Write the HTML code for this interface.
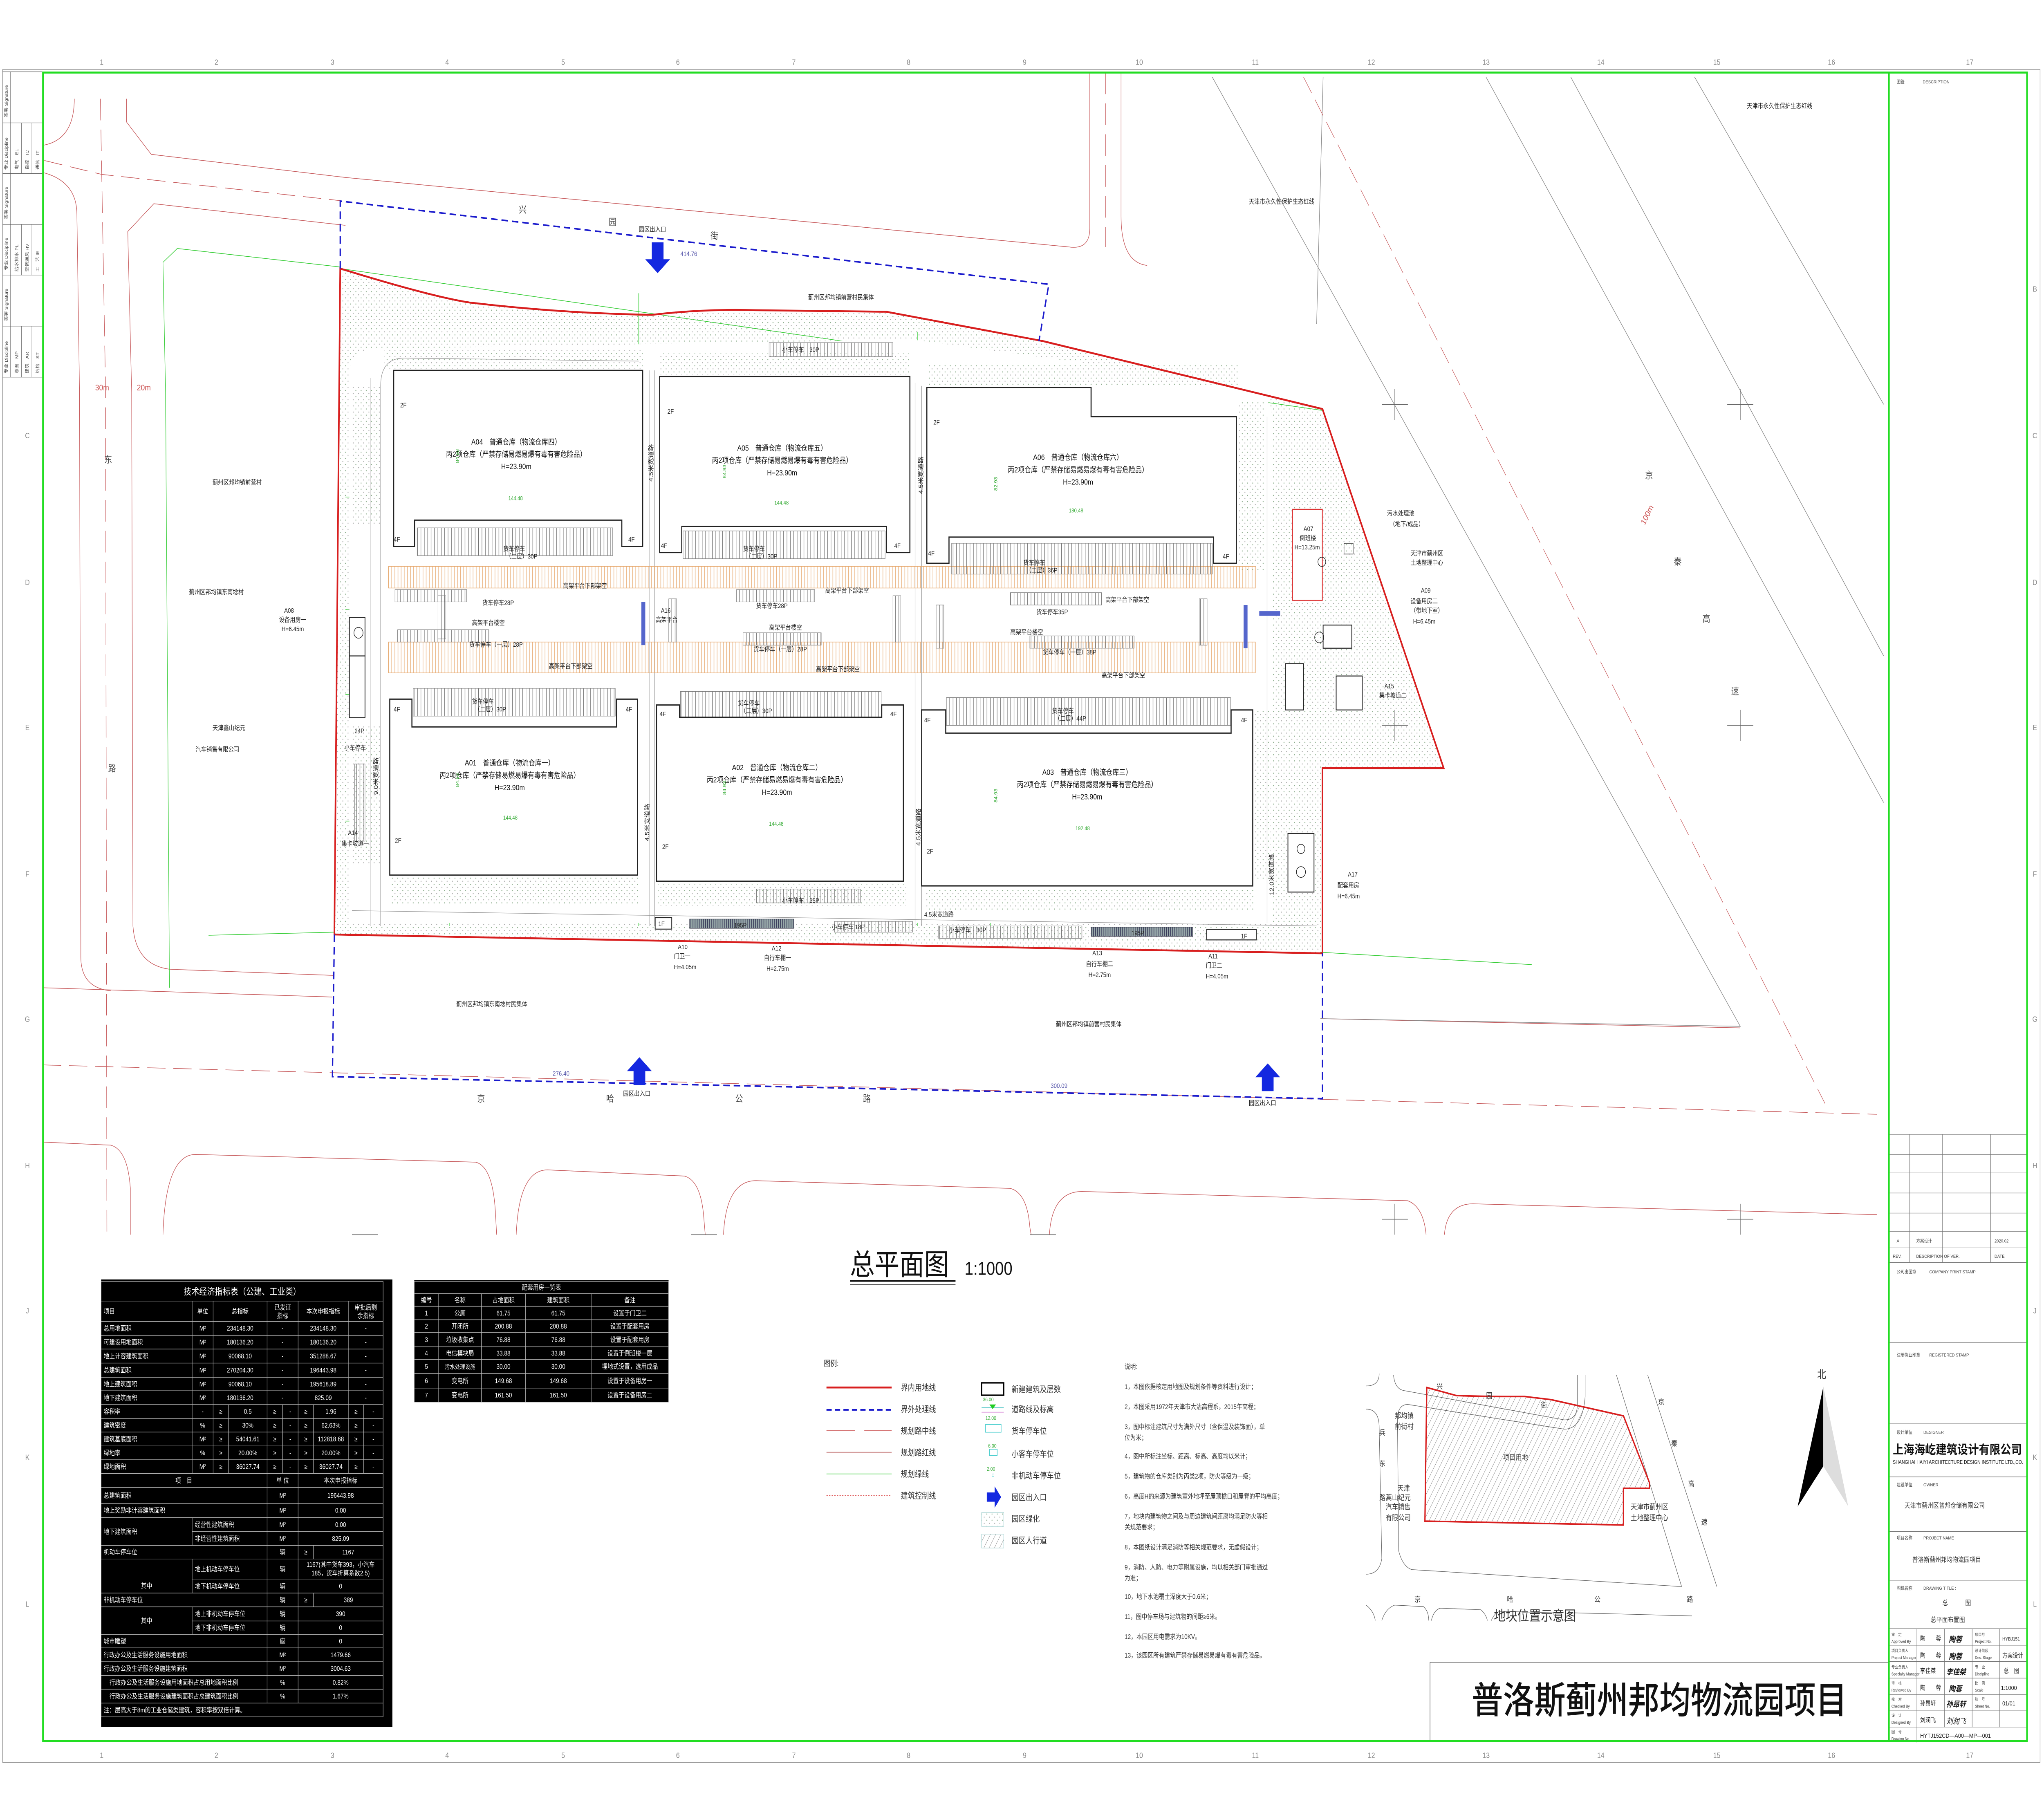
<!DOCTYPE html>
<html><head><meta charset="utf-8">
<style>
html,body{margin:0;padding:0;background:#fff;width:100%;height:100%;overflow:hidden}
svg{display:block;position:fixed;left:0;top:0;width:100vw;height:100vh}
svg text{font-family:"Liberation Sans","Noto Sans CJK SC",sans-serif}
</style></head><body>
<svg viewBox="0 0 1568 1176" preserveAspectRatio="none">
<defs>
<pattern id="dots" width="4" height="4" patternUnits="userSpaceOnUse"><circle cx="1" cy="1" r="0.35" fill="#8a8"/><circle cx="3" cy="3" r="0.35" fill="#aaa"/></pattern>
<pattern id="vh" width="2.6" height="10" patternUnits="userSpaceOnUse"><line x1="0.5" y1="0" x2="0.5" y2="10" stroke="#666" stroke-width="0.35"/></pattern>
<pattern id="or" width="2.4" height="10" patternUnits="userSpaceOnUse"><line x1="0.5" y1="0" x2="0.5" y2="10" stroke="#e6a66a" stroke-width="0.45"/></pattern>
<pattern id="dk" width="1.6" height="10" patternUnits="userSpaceOnUse"><rect width="1.6" height="10" fill="#9aa"/><line x1="0.4" y1="0" x2="0.4" y2="10" stroke="#335" stroke-width="0.5"/></pattern>
<pattern id="diag" width="3.5" height="3.5" patternUnits="userSpaceOnUse" patternTransform="rotate(30)"><line x1="0" y1="0" x2="0" y2="3.5" stroke="#444" stroke-width="0.3"/></pattern>
</defs>
<rect width="1568" height="1176" fill="#fff"/>

<rect x="2" y="45" width="1563" height="1097" fill="none" stroke="#999" stroke-width="0.4"/>
<g font-size="5" fill="#888" text-anchor="middle">
<text x="78" y="42">1</text><text x="166" y="42">2</text><text x="255" y="42">3</text><text x="343" y="42">4</text><text x="432" y="42">5</text><text x="520" y="42">6</text><text x="609" y="42">7</text><text x="697" y="42">8</text><text x="786" y="42">9</text><text x="874" y="42">10</text><text x="963" y="42">11</text><text x="1052" y="42">12</text><text x="1140" y="42">13</text><text x="1228" y="42">14</text><text x="1317" y="42">15</text><text x="1405" y="42">16</text><text x="1511" y="42">17</text>
<text x="78" y="1139">1</text><text x="166" y="1139">2</text><text x="255" y="1139">3</text><text x="343" y="1139">4</text><text x="432" y="1139">5</text><text x="520" y="1139">6</text><text x="609" y="1139">7</text><text x="697" y="1139">8</text><text x="786" y="1139">9</text><text x="874" y="1139">10</text><text x="963" y="1139">11</text><text x="1052" y="1139">12</text><text x="1140" y="1139">13</text><text x="1228" y="1139">14</text><text x="1317" y="1139">15</text><text x="1405" y="1139">16</text><text x="1511" y="1139">17</text>
<text x="1561" y="189">B</text><text x="1561" y="284">C</text><text x="1561" y="379">D</text><text x="1561" y="473">E</text><text x="1561" y="568">F</text><text x="1561" y="662">G</text><text x="1561" y="757">H</text><text x="1561" y="851">J</text><text x="1561" y="946">K</text><text x="1561" y="1041">L</text>
<text x="21" y="284">C</text><text x="21" y="379">D</text><text x="21" y="473">E</text><text x="21" y="568">F</text><text x="21" y="662">G</text><text x="21" y="757">H</text><text x="21" y="851">J</text><text x="21" y="946">K</text><text x="21" y="1041">L</text>
</g>
<g stroke="#555" stroke-width="0.3" fill="none">
<line x1="2" y1="46.5" x2="33" y2="46.5"/><line x1="2" y1="79.6" x2="33" y2="79.6"/><line x1="2" y1="112.4" x2="33" y2="112.4"/><line x1="2" y1="145.4" x2="33" y2="145.4"/><line x1="2" y1="178.2" x2="33" y2="178.2"/><line x1="2" y1="211.3" x2="33" y2="211.3"/><line x1="2" y1="244.4" x2="33" y2="244.4"/>
<line x1="7.9" y1="46.5" x2="7.9" y2="244.4"/><line x1="16.4" y1="79.6" x2="16.4" y2="112.4"/><line x1="24.5" y1="79.6" x2="24.5" y2="112.4"/><line x1="16.4" y1="145.4" x2="16.4" y2="178.2"/><line x1="24.5" y1="145.4" x2="24.5" y2="178.2"/><line x1="16.4" y1="211.3" x2="16.4" y2="244.4"/><line x1="24.5" y1="211.3" x2="24.5" y2="244.4"/>
</g>
<g font-size="3.2" fill="#444">
<text transform="translate(6,76) rotate(-90)">签署 Signature</text>
<text transform="translate(6,110) rotate(-90)">专业 Discipline</text>
<text transform="translate(6,142) rotate(-90)">签署 Signature</text>
<text transform="translate(6,175) rotate(-90)">专业 Discipline</text>
<text transform="translate(6,208) rotate(-90)">签署 Signature</text>
<text transform="translate(6,242) rotate(-90)">专业 Discipline</text>
<text transform="translate(14,110) rotate(-90)">电气　EL</text><text transform="translate(22,110) rotate(-90)">自控　IC</text><text transform="translate(30,110) rotate(-90)">通信　IT</text>
<text transform="translate(14,176) rotate(-90)">给水排水 PL</text><text transform="translate(22,176) rotate(-90)">空调通风 HV</text><text transform="translate(30,176) rotate(-90)">工　艺 IE</text>
<text transform="translate(14,242) rotate(-90)">总图　MP</text><text transform="translate(22,242) rotate(-90)">建筑　AR</text><text transform="translate(30,242) rotate(-90)">结构　ST</text>
</g>

<g fill="none" stroke="#c75a5c" stroke-width="0.4">
<path d="M57,64 Q57,90 34,94"/>
<path d="M97,64 L97,79 L116,100 L265,115 L820,160 Q836,162 836,148 L836,47"/>
<path d="M34,112 Q59,118 59,139 L61,254 L62,620 Q62,640 85,642"/>
<path d="M118,132 L265,146"/>
<path d="M118,132 L98,150 L101,254 L102,600 Q104,625 130,628 L256,632"/>
<path d="M860,47 L860,140 Q860,170 880,172"/>
<path d="M33,640 L255,646"/>
<path d="M1013,660 L1335,666"/>
<path d="M33,740 L85,742 Q98,745 100,770 L100,800"/>
<path d="M125,800 Q127,748 150,748 L365,753 Q378,756 380,785 L381,800"/>
<path d="M396,800 Q398,758 420,758 L525,762 Q538,765 540,790 L541,800"/>
<path d="M555,800 Q557,765 580,765 L775,770 Q788,773 790,795 L791,800"/>
<path d="M805,800 Q807,772 830,772 L1080,778 Q1092,782 1094,800"/>
<path d="M1108,800 Q1110,780 1130,780 L1440,787"/>
</g>
<g fill="none" stroke="#c75a5c" stroke-width="0.4" stroke-dasharray="14 6">
<path d="M77,64 L81,254 L82,800"/>
<path d="M34,104 L78,113 L261,130"/>
<path d="M848,47 L848,160"/>
<path d="M33,690 L1440,722"/>
</g>
<g fill="none" stroke="#888" stroke-width="0.4">
<path d="M930,50 L1335,665 L1013,660"/>
<path d="M1140,50 L1445,520"/>
<path d="M1205,50 L1445,425"/>
<path d="M1300,50 L1445,262"/>
<path d="M1010,210 L1015,50"/>
</g>
<g fill="none" stroke="#c75a5c" stroke-width="0.35" stroke-dasharray="12 5"><path d="M1000,50 L1400,715"/></g>
<g fill="none" stroke="#33cc33" stroke-width="0.4">
<path d="M136,161 L261,173"/>
<path d="M136,161 L125,170 L127,254 L130,640"/>
<path d="M261,174 L1015,266"/>
<path d="M1013,617 L1175,625"/>
<path d="M256,604 L160,606"/>
<path d="M265,322 L960,322"/><path d="M265,532 L965,532"/>
<path d="M345,230 L345,600"/><path d="M555,228 L555,600"/><path d="M760,240 L760,600"/>
<path d="M490,190 L490,600"/><path d="M704,215 L704,600"/>
<path d="M265,395 L975,395"/><path d="M265,450 L975,450"/>
</g>

<path d="M261,174 Q330,192 360,196 Q430,203 500,204 Q540,200 580,201 L680,202 L800,221 L1014.5,265 L1107.5,497.7 L1014.5,497.7 L1014.5,617.7 L256.5,605.5 Z" fill="url(#dots)"/>
<path d="M268,240 Q270,226 290,226 L700,220 L960,250 Q975,256 976,272 L976,598 L268,598 Z" fill="#fff"/>
<g fill="url(#dots)">
<rect x="295" y="227" width="198" height="12"/><rect x="506" y="229" width="192" height="14"/><rect x="712" y="236" width="238" height="14"/>
<rect x="300" y="568" width="190" height="18"/><rect x="505" y="573" width="190" height="14"/><rect x="710" y="576" width="252" height="14"/>
<rect x="270" y="250" width="22" height="90"/><rect x="270" y="470" width="22" height="90"/>
<rect x="950" y="260" width="20" height="110"/><rect x="960" y="460" width="15" height="110"/>
</g>
<path d="M261,174 Q330,192 360,196 Q430,203 500,204 Q540,200 580,201 L680,202 L800,221 L1014.5,265 L1107.5,497.7 L1014.5,497.7 L1014.5,617.7 L256.5,605.5 Z" fill="none" stroke="#d81e1e" stroke-width="1.2"/>
<path d="M261,174 L261,130.3 L804.6,184.2 L797,221" fill="none" stroke="#1a1acc" stroke-width="1" stroke-dasharray="5 3"/>
<path d="M256.5,605.5 L255,697.6 L1014.5,711.9 L1014.5,617.7" fill="none" stroke="#1a1acc" stroke-width="1" stroke-dasharray="5 3"/>

<g fill="none" stroke="#999" stroke-width="0.35">
<path d="M292,600 L292,250 Q292,232 310,232 L490,234"/>
<path d="M284,600 L284,245"/>
<path d="M972,598 L972,270"/>
<path d="M498,240 L498,600"/><path d="M502,240 L502,600"/><path d="M702,248 L702,600"/><path d="M707,250 L707,600"/>
<path d="M270,590 L1010,600"/>
</g>

<rect x="298" y="367" width="665" height="14" fill="url(#or)" opacity="0.85"/>
<rect x="298" y="416" width="665" height="20" fill="url(#or)" opacity="0.85"/>
<g fill="none" stroke="#e6a66a" stroke-width="0.4"><rect x="298" y="367" width="665" height="14"/><rect x="298" y="416" width="665" height="20"/></g>
<g fill="url(#vh)" stroke="#777" stroke-width="0.3">
<rect x="320" y="342" width="150" height="18"/><rect x="524" y="344" width="155" height="18"/><rect x="730" y="352" width="200" height="20"/>
<rect x="317" y="446" width="155" height="18"/><rect x="522" y="448" width="154" height="17"/><rect x="726" y="452" width="218" height="18"/>
<rect x="303" y="382" width="55" height="8"/><rect x="565" y="382" width="60" height="8"/><rect x="775" y="384" width="70" height="8"/>
<rect x="305" y="408" width="70" height="8"/><rect x="570" y="410" width="60" height="8"/><rect x="790" y="412" width="80" height="8"/>
<rect x="336" y="386" width="6" height="28"/><rect x="513" y="388" width="6" height="28"/><rect x="685" y="386" width="6" height="30"/><rect x="718" y="392" width="6" height="28"/><rect x="920" y="388" width="6" height="30"/>
<rect x="272" y="495" width="8" height="50"/><rect x="272" y="425" width="8" height="40"/>
<rect x="590" y="222" width="95" height="9"/>
<rect x="580" y="576" width="80" height="9"/><rect x="720" y="600" width="110" height="8"/><rect x="640" y="597" width="60" height="7"/>
</g>
<rect x="529" y="595.5" width="80" height="6" fill="url(#dk)" stroke="#334" stroke-width="0.3"/>
<rect x="837" y="600.7" width="78" height="6" fill="url(#dk)" stroke="#334" stroke-width="0.3"/>
<g fill="#5566cc"><rect x="492" y="390" width="3" height="28"/><rect x="954" y="392" width="3" height="28"/><rect x="966" y="396" width="16" height="3"/></g>

<g fill="#fff" stroke="#222" stroke-width="0.8">
<path d="M302,240 L493,240 L493,354 L477,354 L477,337 L318,337 L318,354 L302,354 Z"/>
<path d="M506,244 L698,244 L698,358 L680,358 L680,341 L523,341 L523,358 L506,358 Z"/>
<path d="M711,251 L837,251 L837,270 L948.5,270 L948.5,365 L931,365 L931,348 L728,348 L728,365 L711,365 Z"/>
<path d="M299,453 L316,453 L316,471 L473,471 L473,453 L489,453 L489,567 L299,567 Z"/>
<path d="M503.6,456.8 L521.3,456.8 L521.3,464.7 L676.4,464.7 L676.4,456.8 L693,456.8 L693,571 L503.6,571 Z"/>
<path d="M707,460 L725.5,460 L725.5,475 L944.4,475 L944.4,460 L961,460 L961,574 L707,574 Z"/>
</g>
<g fill="#fff" stroke="#222" stroke-width="0.6">
<rect x="502.6" y="594.6" width="12.7" height="7.4"/>
<rect x="925.7" y="602.2" width="38" height="6.8"/>
<rect x="268" y="400" width="12" height="25"/>
<rect x="268" y="425" width="12" height="40"/>
<rect x="986" y="430" width="14" height="30"/>
<rect x="1025" y="438" width="20" height="22"/>
<rect x="988" y="540" width="20" height="38"/>
<rect x="1015" y="405" width="22" height="15"/>
</g>
<rect x="991.6" y="330" width="22.8" height="59" fill="#fff" stroke="#d33" stroke-width="0.6"/>
<g fill="none" stroke="#222" stroke-width="0.4"><circle cx="275" cy="410" r="3.5"/><circle cx="1012" cy="413" r="3.5"/><circle cx="998" cy="565" r="3.5"/><circle cx="998" cy="550" r="3"/><circle cx="1014" cy="364" r="3"/><rect x="1031" y="352" width="7" height="7"/></g>

<g fill="#1428e0">
<path d="M500,157 L509,157 L509,168 L514,168 L504.5,177 L495,168 L500,168 Z"/>
<path d="M486,703 L495,703 L495,694 L500,694 L490.5,685 L481,694 L486,694 Z"/>
<path d="M968,707 L977,707 L977,698 L982,698 L972.5,689 L963,698 L968,698 Z"/>
</g>

<g stroke="#666" stroke-width="0.4">
<path d="M1070,252 V272 M1060,262 H1080"/><path d="M1335,252 V272 M1325,262 H1345"/><path d="M1070,460 V480 M1060,470 H1080"/><path d="M1335,460 V480 M1325,470 H1345"/>
<path d="M1070,780 V800 M1060,790 H1080"/><path d="M1335,780 V800 M1325,790 H1345"/>
<path d="M270,800 H290 M530,800 H550 M790,800 H810"/>
</g>

<g font-size="5" fill="#111" text-anchor="middle">
<text x="396" y="288">A04　普通仓库（物流仓库四）</text><text x="396" y="296">丙2项仓库（严禁存储易燃易爆有毒有害危险品）</text><text x="396" y="304">H=23.90m</text>
<text x="600" y="292">A05　普通仓库（物流仓库五）</text><text x="600" y="300">丙2项仓库（严禁存储易燃易爆有毒有害危险品）</text><text x="600" y="308">H=23.90m</text>
<text x="827" y="298">A06　普通仓库（物流仓库六）</text><text x="827" y="306">丙2项仓库（严禁存储易燃易爆有毒有害危险品）</text><text x="827" y="314">H=23.90m</text>
<text x="391" y="496">A01　普通仓库（物流仓库一）</text><text x="391" y="504">丙2项仓库（严禁存储易燃易爆有毒有害危险品）</text><text x="391" y="512">H=23.90m</text>
<text x="596" y="499">A02　普通仓库（物流仓库二）</text><text x="596" y="507">丙2项仓库（严禁存储易燃易爆有毒有害危险品）</text><text x="596" y="515">H=23.90m</text>
<text x="834" y="502">A03　普通仓库（物流仓库三）</text><text x="834" y="510">丙2项仓库（严禁存储易燃易爆有毒有害危险品）</text><text x="834" y="518">H=23.90m</text>
</g>
<g font-size="4.2" fill="#222">
<text x="307" y="264">2F</text><text x="512" y="268">2F</text><text x="716" y="275">2F</text><text x="303" y="546">2F</text><text x="508" y="550">2F</text><text x="711" y="553">2F</text>
<text x="302" y="351">4F</text><text x="482" y="351">4F</text><text x="507" y="355">4F</text><text x="686" y="355">4F</text><text x="712" y="360">4F</text><text x="938" y="362">4F</text>
<text x="302" y="461">4F</text><text x="480" y="461">4F</text><text x="506" y="464">4F</text><text x="683" y="464">4F</text><text x="709" y="468">4F</text><text x="952" y="468">4F</text>
<text x="386" y="357">货车停车</text><text x="388" y="362">（二层）30P</text>
<text x="570" y="357">货车停车</text><text x="572" y="362">（二层）30P</text>
<text x="785" y="366">货车停车</text><text x="787" y="371">（二层）36P</text>
<text x="362" y="456">货车停车</text><text x="364" y="461">（二层）30P</text>
<text x="566" y="457">货车停车</text><text x="568" y="462">（二层）30P</text>
<text x="807" y="462">货车停车</text><text x="809" y="467">（二层）44P</text>
<text x="432" y="381">高架平台下部架空</text><text x="633" y="384">高架平台下部架空</text><text x="848" y="390">高架平台下部架空</text>
<text x="421" y="433">高架平台下部架空</text><text x="626" y="435">高架平台下部架空</text><text x="845" y="439">高架平台下部架空</text>
<text x="370" y="392">货车停车28P</text><text x="580" y="394">货车停车28P</text><text x="795" y="398">货车停车35P</text>
<text x="362" y="405">高架平台楼空</text><text x="590" y="408">高架平台楼空</text><text x="775" y="411">高架平台楼空</text>
<text x="360" y="419">货车停车（一层）28P</text><text x="578" y="422">货车停车（一层）28P</text><text x="800" y="424">货车停车（一层）38P</text>
<text x="600" y="228">小车停车　30P</text><text x="600" y="585">小车停车　35P</text><text x="638" y="602">小车停车 18P</text><text x="728" y="604">小车停车　30P</text>
<text x="709" y="594">4.5米宽道路</text><text x="563" y="601">195P</text><text x="868" y="606">195P</text>
<text x="505" y="600">1F</text><text x="952" y="608">1F</text>
<text x="507" y="397">A16</text><text x="503" y="403">高架平台</text>
<text x="264" y="486">小车停车</text><text x="272" y="475">24P</text>
<text x="267" y="541">A14</text><text x="262" y="548">集卡坡道一</text>
<text x="218" y="397">A08</text><text x="214" y="403">设备用房一</text><text x="216" y="409">H=6.45m</text>
<text x="1000" y="344">A07</text><text x="997" y="350">倒班楼</text><text x="993" y="356">H=13.25m</text>
<text x="1090" y="384">A09</text><text x="1082" y="391">设备用房二</text><text x="1082" y="397">（带地下室）</text><text x="1084" y="404">H=6.45m</text>
<text x="1064" y="334">污水处理池</text><text x="1066" y="341">（地下/成品）</text>
<text x="1082" y="360">天津市蓟州区</text><text x="1082" y="366">土地整理中心</text>
<text x="1062" y="446">A15</text><text x="1058" y="452">集卡坡道二</text>
<text x="1034" y="568">A17</text><text x="1026" y="575">配套用房</text><text x="1026" y="582">H=6.45m</text>
<text x="520" y="615">A10</text><text x="517" y="621">门卫一</text><text x="517" y="628">H=4.05m</text>
<text x="592" y="616">A12</text><text x="586" y="622">自行车棚一</text><text x="588" y="629">H=2.75m</text>
<text x="838" y="619">A13</text><text x="833" y="626">自行车棚二</text><text x="835" y="633">H=2.75m</text>
<text x="927" y="621">A11</text><text x="925" y="627">门卫二</text><text x="925" y="634">H=4.05m</text>
<text x="490" y="150">园区出入口</text><text x="478" y="710">园区出入口</text><text x="958" y="716">园区出入口</text>
<text x="163" y="314">蓟州区邦均镇前营村</text><text x="145" y="385">蓟州区邦均镇东南埝村</text>
<text x="163" y="473">天津鑫山纪元</text><text x="150" y="487">汽车销售有限公司</text>
<text x="1340" y="70">天津市永久性保护生态红线</text><text x="958" y="132">天津市永久性保护生态红线</text>
<text x="350" y="652">蓟州区邦均镇东南埝村民集体</text><text x="810" y="665">蓟州区邦均镇前营村民集体</text>
<text x="620" y="194">蓟州区邦均镇前营村民集体</text>
<text x="424" y="697" fill="#55a">276.40</text><text x="806" y="705" fill="#55a">300.09</text><text x="522" y="166" fill="#55a">414.76</text>
</g>
<g font-size="6" fill="#444">
<text x="80" y="300">东</text><text x="83" y="500">路</text><text x="398" y="138">兴</text><text x="467" y="146">园</text><text x="545" y="155">街</text>
<text x="366" y="714">京</text><text x="465" y="714">哈</text><text x="564" y="714">公</text><text x="662" y="714">路</text>
<text x="1262" y="310">京</text><text x="1284" y="366">秦</text><text x="1306" y="403">高</text><text x="1328" y="450">速</text>
</g>
<g font-size="5.5" fill="#c55"><text x="73" y="253">30m</text><text x="105" y="253">20m</text><text x="1258" y="338" transform="rotate(-60 1262 336)">100m</text></g>
<g font-size="4.5" fill="#222">
<text transform="translate(501,312) rotate(-90)">4.5米宽道路</text><text transform="translate(708,320) rotate(-90)">4.5米宽道路</text>
<text transform="translate(498,545) rotate(-90)">4.5米宽道路</text><text transform="translate(706,548) rotate(-90)">4.5米宽道路</text>
<text transform="translate(290,515) rotate(-90)">9.0米宽道路</text><text transform="translate(977,580) rotate(-90)">12.0米宽道路</text>
</g>
<g font-size="3.6" fill="#3a3">
<text x="390" y="324">144.48</text><text x="594" y="327">144.48</text><text x="820" y="332">180.48</text>
<text x="386" y="531">144.48</text><text x="590" y="535">144.48</text><text x="825" y="538">192.48</text>
<text transform="translate(352,300) rotate(-90)">84.93</text><text transform="translate(557,310) rotate(-90)">84.93</text><text transform="translate(765,318) rotate(-90)">82.93</text>
<text transform="translate(352,510) rotate(-90)">84.93</text><text transform="translate(557,515) rotate(-90)">84.93</text><text transform="translate(765,520) rotate(-90)">84.93</text>
</g>

<text x="652" y="826" font-size="19" fill="#111">总平面图</text>
<line x1="652" y1="830" x2="733" y2="830" stroke="#111" stroke-width="1"/>
<line x1="652" y1="832.5" x2="733" y2="832.5" stroke="#111" stroke-width="0.5"/>
<text x="740" y="826" font-size="12" fill="#111">1:1000</text>

<text x="632" y="885" font-size="5" fill="#222">图例:</text>
<line x1="634" y1="899" x2="684" y2="899" stroke="#d81e1e" stroke-width="1.2"/>
<line x1="634" y1="913.5" x2="684" y2="913.5" stroke="#1a1acc" stroke-width="1" stroke-dasharray="4 2.5"/>
<line x1="634" y1="927" x2="656" y2="927" stroke="#c55" stroke-width="0.4"/><line x1="663" y1="927" x2="684" y2="927" stroke="#c55" stroke-width="0.4"/>
<line x1="634" y1="941" x2="684" y2="941" stroke="#c88" stroke-width="0.5"/>
<line x1="634" y1="955" x2="684" y2="955" stroke="#3c3" stroke-width="0.4"/>
<line x1="634" y1="969" x2="684" y2="969" stroke="#d55" stroke-width="0.3" stroke-dasharray="1 1"/>
<g font-size="5.4" fill="#333">
<text x="691" y="901">界内用地线</text><text x="691" y="915">界外处理线</text><text x="691" y="929">规划路中线</text><text x="691" y="943">规划路红线</text><text x="691" y="957">规划绿线</text><text x="691" y="971">建筑控制线</text>
<text x="776" y="902">新建建筑及层数</text><text x="776" y="915">道路线及标高</text><text x="776" y="929">货车停车位</text><text x="776" y="944">小客车停车位</text><text x="776" y="958">非机动车停车位</text><text x="776" y="972">园区出入口</text><text x="776" y="986">园区绿化</text><text x="776" y="1000">园区人行道</text>
</g>
<rect x="753" y="896" width="17" height="8" fill="none" stroke="#000" stroke-width="0.9"/>
<line x1="753" y1="912" x2="770" y2="912" stroke="#6cc" stroke-width="0.4"/><line x1="753" y1="915" x2="770" y2="915" stroke="#c6c" stroke-width="0.4"/><path d="M759,910 L764,910 L761.5,913 Z" fill="#2c2"/>
<rect x="756" y="923" width="12" height="5" fill="none" stroke="#4cc" stroke-width="0.4"/>
<rect x="759" y="939" width="6" height="4" fill="none" stroke="#4cc" stroke-width="0.4"/>
<rect x="761" y="955" width="1.5" height="1.5" fill="none" stroke="#4cc" stroke-width="0.3"/>
<path d="M757,967 L763,967 L763,963 L768,970 L763,977 L763,973 L757,973 Z" fill="#1428e0"/>
<rect x="753" y="980" width="17" height="9" fill="url(#dots)" stroke="#9cc" stroke-width="0.3"/>
<rect x="753" y="994" width="17" height="9" fill="url(#diag)" stroke="#9cc" stroke-width="0.3"/>
<g font-size="3.3" fill="#3a3"><text x="754" y="908">36.00</text><text x="756" y="920">12.00</text><text x="758" y="938">6.00</text><text x="757" y="953">2.00</text></g>

<g font-size="4.3" fill="#333">
<text x="862.7" y="887">说明:</text>
<text x="862.7" y="900">1，本图依据核定用地图及规划条件等资料进行设计；</text>
<text x="862.7" y="913">2，本图采用1972年天津市大沽高程系，2015年高程；</text>
<text x="862.7" y="926">3，图中标注建筑尺寸为满外尺寸（含保温及装饰面），单</text>
<text x="862.7" y="933">位为米；</text>
<text x="862.7" y="945">4，图中所标注坐标、距离、标高、高度均以米计；</text>
<text x="862.7" y="958">5，建筑物的仓库类别为丙类2项，防火等级为一级；</text>
<text x="862.7" y="971">6，高度H的来源为建筑室外地坪至屋顶檐口和屋脊的平均高度；</text>
<text x="862.7" y="984">7，地块内建筑物之间及与周边建筑间距离均满足防火等相</text>
<text x="862.7" y="991">关规范要求；</text>
<text x="862.7" y="1004">8，本图纸设计满足消防等相关规范要求，无虚假设计；</text>
<text x="862.7" y="1017">9，消防、人防、电力等附属设施，均以相关部门审批通过</text>
<text x="862.7" y="1024">为准；</text>
<text x="862.7" y="1036">10，地下水池覆土深度大于0.6米；</text>
<text x="862.7" y="1049">11，图中停车场与建筑物的间距≥6米。</text>
<text x="862.7" y="1062">12，本园区用电需求为10KV。</text>
<text x="862.7" y="1074">13，该园区所有建筑严禁存储易燃易爆有毒有害危险品。</text>
</g>

<g fill="none" stroke="#666" stroke-width="0.35">
<path d="M1048,898 Q1058,898 1058,890 M1048,913 Q1058,913 1058,925 L1060,1010 Q1058,1020 1048,1020"/>
<path d="M1069,891 Q1070,900 1077,901 L1200,920 Q1210,920 1210,910 L1210,891"/>
<path d="M1216,891 L1216,905 Q1214,926 1200,926 L1080,910 Q1072,910 1072,920 L1073,1005 Q1076,1015 1083,1017 L1290,1028"/>
<path d="M1240,891 L1290,1028"/><path d="M1264,891 L1317,1028"/>
<path d="M1048,1040 Q1054,1044 1055,1050 M1060,1050 Q1063,1042 1070,1040 L1092,1041 Q1096,1044 1096,1050 M1098,1050 Q1100,1043 1105,1042 L1136,1043 Q1140,1046 1141,1050 M1144,1050 Q1147,1044 1152,1044 L1191,1045 Q1194,1048 1196,1050 M1200,1050 Q1203,1045 1208,1045 L1298,1047"/>
</g>
<path d="M1094.5,899 L1117,904.2 Q1140,905 1169.4,904.8 L1190,906.9 L1245.4,917.4 L1265.3,960.6 L1265.3,964.3 L1245.4,964.3 L1245.4,988.1 L1093.1,985.6 Z" fill="url(#diag)" stroke="#d81e1e" stroke-width="1"/>
<g font-size="4.8" fill="#333">
<text x="1070" y="919">邦均镇</text><text x="1070" y="926">前街村</text>
<text x="1072" y="966">天津</text><text x="1063" y="972">蒿山纪元</text><text x="1063" y="978">汽车销售</text><text x="1063" y="985">有限公司</text>
<text x="1153" y="946">项目用地</text>
<text x="1251" y="978">天津市蓟州区</text><text x="1251" y="985">土地整理中心</text>
<text x="1058" y="950">东</text><text x="1058" y="972">路</text><text x="1058" y="930">兵</text>
<text x="1102" y="900">兴</text><text x="1140" y="906">园</text><text x="1182" y="912">街</text>
<text x="1272" y="910">京</text><text x="1282" y="937">秦</text><text x="1295" y="963">高</text><text x="1305" y="988">速</text>
<text x="1085" y="1038">京</text><text x="1156" y="1038">哈</text><text x="1223" y="1038">公</text><text x="1294" y="1038">路</text>
</g>
<text x="1146" y="1050" font-size="9" fill="#333">地块位置示意图</text>
<path d="M1398.7,898.5 L1379,976.2 L1398.7,950 Z" fill="#000"/>
<path d="M1398.7,898.5 L1417.8,976 L1398.7,950 Z" fill="#ddd"/>
<text x="1394" y="893" font-size="7" fill="#333">北</text>

<rect x="1097" y="1077" width="352" height="51" fill="none" stroke="#555" stroke-width="0.4"/>
<text x="1273" y="1110" font-size="24" fill="#111" text-anchor="middle" font-weight="500">普洛斯蓟州邦均物流园项目</text>

<g fill="none" stroke="#777" stroke-width="0.35">
<line x1="1449" y1="735" x2="1555" y2="735"/><line x1="1449" y1="748" x2="1555" y2="748"/><line x1="1449" y1="760" x2="1555" y2="760"/><line x1="1449" y1="773" x2="1555" y2="773"/><line x1="1449" y1="786" x2="1555" y2="786"/><line x1="1449" y1="798" x2="1555" y2="798"/><line x1="1449" y1="808" x2="1555" y2="808"/><line x1="1449" y1="818" x2="1555" y2="818"/>
<line x1="1465" y1="735" x2="1465" y2="818"/><line x1="1490" y1="735" x2="1490" y2="818"/><line x1="1527" y1="735" x2="1527" y2="818"/>
<line x1="1449" y1="870" x2="1555" y2="870"/><line x1="1449" y1="922.2" x2="1555" y2="922.2"/><line x1="1449" y1="956.9" x2="1555" y2="956.9"/><line x1="1449" y1="992.3" x2="1555" y2="992.3"/><line x1="1449" y1="1023.9" x2="1555" y2="1023.9"/>
<line x1="1449" y1="1055.3" x2="1555" y2="1055.3"/><line x1="1449" y1="1066" x2="1555" y2="1066"/><line x1="1449" y1="1076.6" x2="1555" y2="1076.6"/><line x1="1449" y1="1087.3" x2="1555" y2="1087.3"/><line x1="1449" y1="1097.9" x2="1555" y2="1097.9"/><line x1="1449" y1="1108.5" x2="1555" y2="1108.5"/><line x1="1449" y1="1119" x2="1555" y2="1119"/>
<line x1="1470.5" y1="1055.3" x2="1470.5" y2="1129"/><line x1="1491.7" y1="1055.3" x2="1491.7" y2="1119"/><line x1="1512.9" y1="1055.3" x2="1512.9" y2="1119"/><line x1="1533.8" y1="1055.3" x2="1533.8" y2="1119"/>
</g>
<g font-size="3" fill="#444">
<text x="1455" y="54">图签</text><text x="1475" y="54">DESCRIPTION</text>
<text x="1455" y="805">A</text><text x="1470" y="805">方案设计</text><text x="1530" y="805">2020.02</text>
<text x="1452" y="815">REV.</text><text x="1470" y="815">DESCRIPTION OF VER.</text><text x="1530" y="815">DATE</text>
<text x="1455" y="825">公司出图章</text><text x="1480" y="825">COMPANY PRINT STAMP</text>
<text x="1455" y="879">注册执业印章</text><text x="1480" y="879">REGISTERED STAMP</text>
<text x="1455" y="929">设计单位</text><text x="1475.5" y="929">DESIGNER</text>
<text x="1455" y="963">建设单位</text><text x="1475.5" y="963">OWNER</text>
<text x="1455" y="997.5">项目名称</text><text x="1475.5" y="997.5">PROJECT NAME</text>
<text x="1455" y="1030">图纸名称</text><text x="1475.5" y="1030">DRAWING TITLE :</text>
</g>
<text x="1452" y="942" font-size="8" font-weight="bold" fill="#111" textLength="99" lengthAdjust="spacingAndGlyphs">上海海屹建筑设计有限公司</text>
<text x="1452" y="948.5" font-size="3.4" fill="#111" textLength="100" lengthAdjust="spacingAndGlyphs">SHANGHAI HAIYI ARCHITECTURE DESIGN INSTITUTE LTD.,CO.</text>
<g font-size="4.4" fill="#333">
<text x="1461" y="977">天津市蓟州区普邦仓储有限公司</text>
<text x="1467" y="1012">普洛斯蓟州邦均物流园项目</text>
<text x="1490" y="1040">总　　　图</text>
<text x="1481" y="1051">总平面布置图</text>
</g>
<g font-size="2.6" fill="#333">
<text x="1451" y="1060">审　定</text><text x="1451" y="1064.5">Approved By</text>
<text x="1451" y="1070.5">项目负责人</text><text x="1451" y="1075">Project Manager</text>
<text x="1451" y="1081">专业负责人</text><text x="1451" y="1085.5">Specialty Manager</text>
<text x="1451" y="1091.5">审　核</text><text x="1451" y="1096">Reviewed By</text>
<text x="1451" y="1102">校　对</text><text x="1451" y="1106.5">Checked By</text>
<text x="1451" y="1112.5">设　计</text><text x="1451" y="1117">Designed By</text>
<text x="1451" y="1123">图　号</text><text x="1451" y="1127.5">Drawing No.</text>
<text x="1515" y="1060">项目号</text><text x="1515" y="1064.5">Project No.</text>
<text x="1515" y="1070.5">设计阶段</text><text x="1515" y="1075">Des. Stage</text>
<text x="1515" y="1081">专　业</text><text x="1515" y="1085.5">Discipline</text>
<text x="1515" y="1091.5">比　例</text><text x="1515" y="1096">Scale</text>
<text x="1515" y="1102">张　号</text><text x="1515" y="1106.5">Sheet No.</text>
</g>
<g font-size="4" fill="#222">
<text x="1473" y="1063">陶　　蓉</text><text x="1473" y="1074">陶　　蓉</text><text x="1473" y="1084">李佳桀</text><text x="1473" y="1095">陶　　蓉</text><text x="1473" y="1105">孙昂轩</text><text x="1473" y="1116">刘润飞</text>
<text x="1536" y="1063" font-size="3.2">HYBJ151</text><text x="1536" y="1074">方案设计</text><text x="1537" y="1084">总　图</text><text x="1535" y="1095">1:1000</text><text x="1536" y="1105">01/01</text>
<text x="1473" y="1126">HYTJ152CD—A00—MP—001</text>
</g>
<g font-size="5" fill="#111" font-weight="bold" font-style="italic">
<text x="1495" y="1064">陶蓉</text><text x="1495" y="1075">陶蓉</text><text x="1493" y="1085">李佳桀</text><text x="1495" y="1096">陶蓉</text><text x="1493" y="1106">孙昂轩</text><text x="1493" y="1117" font-weight="normal">刘润飞</text>
</g>

<rect x="33" y="47" width="1522" height="1081" fill="none" stroke="#22dd22" stroke-width="1.3"/>
<line x1="1449" y1="47" x2="1449" y2="1128" stroke="#22dd22" stroke-width="1.3"/>

<rect x="77.6" y="829" width="223.4" height="290" fill="#000"/>
<g stroke="#bbb" stroke-width="0.35">
<line x1="77.6" y1="830.2" x2="293.9" y2="830.2"/><line x1="77.6" y1="843" x2="293.9" y2="843"/><line x1="77.6" y1="856.2" x2="293.9" y2="856.2"/><line x1="77.6" y1="865.2" x2="293.9" y2="865.2"/><line x1="77.6" y1="874.1" x2="293.9" y2="874.1"/><line x1="77.6" y1="883.2" x2="293.9" y2="883.2"/><line x1="77.6" y1="892.4" x2="293.9" y2="892.4"/><line x1="77.6" y1="901.1" x2="293.9" y2="901.1"/><line x1="77.6" y1="910.1" x2="293.9" y2="910.1"/><line x1="77.6" y1="919" x2="293.9" y2="919"/><line x1="77.6" y1="927.9" x2="293.9" y2="927.9"/><line x1="77.6" y1="936.9" x2="293.9" y2="936.9"/><line x1="77.6" y1="945.8" x2="293.9" y2="945.8"/><line x1="77.6" y1="954.7" x2="293.9" y2="954.7"/><line x1="77.6" y1="963.8" x2="293.9" y2="963.8"/><line x1="77.6" y1="974.1" x2="293.9" y2="974.1"/><line x1="77.6" y1="983.3" x2="293.9" y2="983.3"/><line x1="147.4" y1="992.4" x2="293.9" y2="992.4"/><line x1="77.6" y1="1001.3" x2="293.9" y2="1001.3"/><line x1="77.6" y1="1010.1" x2="293.9" y2="1010.1"/><line x1="147.4" y1="1023.1" x2="293.9" y2="1023.1"/><line x1="77.6" y1="1032.2" x2="293.9" y2="1032.2"/><line x1="77.6" y1="1041.1" x2="293.9" y2="1041.1"/><line x1="147.4" y1="1050.3" x2="293.9" y2="1050.3"/><line x1="77.6" y1="1059" x2="293.9" y2="1059"/><line x1="77.6" y1="1067.7" x2="293.9" y2="1067.7"/><line x1="77.6" y1="1076.7" x2="293.9" y2="1076.7"/><line x1="77.6" y1="1085.6" x2="293.9" y2="1085.6"/><line x1="77.6" y1="1094.5" x2="293.9" y2="1094.5"/><line x1="77.6" y1="1103.5" x2="293.9" y2="1103.5"/><line x1="77.6" y1="1112.4" x2="293.9" y2="1112.4"/>
<line x1="77.6" y1="830.2" x2="77.6" y2="1112.4"/><line x1="293.9" y1="830.2" x2="293.9" y2="1112.4"/>
<line x1="147.4" y1="843" x2="147.4" y2="954.7"/><line x1="147.4" y1="983.3" x2="147.4" y2="1001.3"/><line x1="147.4" y1="1010.1" x2="147.4" y2="1032.2"/><line x1="147.4" y1="1041.1" x2="147.4" y2="1059"/>
<line x1="163.5" y1="843" x2="163.5" y2="954.7"/><line x1="175.3" y1="910.1" x2="175.3" y2="954.7"/>
<line x1="204.9" y1="843" x2="204.9" y2="1103.5"/><line x1="216.7" y1="910.1" x2="216.7" y2="954.7"/>
<line x1="228.7" y1="843" x2="228.7" y2="1103.5"/>
<line x1="240.5" y1="910.1" x2="240.5" y2="954.7"/><line x1="240.5" y1="1001.3" x2="240.5" y2="1010.1"/><line x1="240.5" y1="1032.2" x2="240.5" y2="1041.1"/>
<line x1="267.2" y1="843" x2="267.2" y2="954.7"/><line x1="279" y1="910.1" x2="279" y2="954.7"/>
</g>
<g font-size="4.3" fill="#fff" text-anchor="middle">
<text x="185.8" y="839" font-size="6">技术经济指标表（公建、工业类）</text>
<text x="155.45" y="851.1">单位</text><text x="184.2" y="851.1">总指标</text><text x="216.8" y="848.6">已发证</text><text x="216.8" y="854">指标</text><text x="247.95" y="851.1">本次申报指标</text><text x="280.55" y="848.6">审批后剩</text><text x="280.55" y="854">余指标</text>
<text x="155.45" y="862.2">M²</text><text x="184.2" y="862.2">234148.30</text><text x="216.8" y="862.2">-</text><text x="247.95" y="862.2">234148.30</text><text x="280.55" y="862.2">-</text>
<text x="155.45" y="871.2">M²</text><text x="184.2" y="871.2">180136.20</text><text x="216.8" y="871.2">-</text><text x="247.95" y="871.2">180136.20</text><text x="280.55" y="871.2">-</text>
<text x="155.45" y="880.2">M²</text><text x="184.2" y="880.2">90068.10</text><text x="216.8" y="880.2">-</text><text x="247.95" y="880.2">351288.67</text><text x="280.55" y="880.2">-</text>
<text x="155.45" y="889.3">M²</text><text x="184.2" y="889.3">270204.30</text><text x="216.8" y="889.3">-</text><text x="247.95" y="889.3">196443.98</text><text x="280.55" y="889.3">-</text>
<text x="155.45" y="898.3">M²</text><text x="184.2" y="898.3">90068.10</text><text x="216.8" y="898.3">-</text><text x="247.95" y="898.3">195618.89</text><text x="280.55" y="898.3">-</text>
<text x="155.45" y="907.1">M²</text><text x="184.2" y="907.1">180136.20</text><text x="216.8" y="907.1">-</text><text x="247.95" y="907.1">825.09</text><text x="280.55" y="907.1">-</text>
<text x="155.45" y="916">-</text><text x="169.4" y="916">≥</text><text x="190.1" y="916">0.5</text><text x="210.8" y="916">≥</text><text x="222.7" y="916">-</text><text x="234.6" y="916">≥</text><text x="253.85" y="916">1.96</text><text x="273.1" y="916">≥</text><text x="286.45" y="916">-</text>
<text x="155.45" y="925">%</text><text x="169.4" y="925">≥</text><text x="190.1" y="925">30%</text><text x="210.8" y="925">≥</text><text x="222.7" y="925">-</text><text x="234.6" y="925">≥</text><text x="253.85" y="925">62.63%</text><text x="273.1" y="925">≥</text><text x="286.45" y="925">-</text>
<text x="155.45" y="933.9">M²</text><text x="169.4" y="933.9">≥</text><text x="190.1" y="933.9">54041.61</text><text x="210.8" y="933.9">≥</text><text x="222.7" y="933.9">-</text><text x="234.6" y="933.9">≥</text><text x="253.85" y="933.9">112818.68</text><text x="273.1" y="933.9">≥</text><text x="286.45" y="933.9">-</text>
<text x="155.45" y="942.9">%</text><text x="169.4" y="942.9">≥</text><text x="190.1" y="942.9">20.00%</text><text x="210.8" y="942.9">≥</text><text x="222.7" y="942.9">-</text><text x="234.6" y="942.9">≥</text><text x="253.85" y="942.9">20.00%</text><text x="273.1" y="942.9">≥</text><text x="286.45" y="942.9">-</text>
<text x="155.45" y="951.8">M²</text><text x="169.4" y="951.8">≥</text><text x="190.1" y="951.8">36027.74</text><text x="210.8" y="951.8">≥</text><text x="222.7" y="951.8">-</text><text x="234.6" y="951.8">≥</text><text x="253.85" y="951.8">36027.74</text><text x="273.1" y="951.8">≥</text><text x="286.45" y="951.8">-</text>
<text x="141" y="960.8">项　目</text><text x="216.8" y="960.8">单 位</text><text x="261.3" y="960.8">本次申报指标</text>
<text x="216.8" y="970.5">M²</text><text x="261.3" y="970.5">196443.98</text>
<text x="216.8" y="980.2">M²</text><text x="261.3" y="980.2">0.00</text>
<text x="216.8" y="989.4">M²</text><text x="261.3" y="989.4">0.00</text>
<text x="216.8" y="998.4">M²</text><text x="261.3" y="998.4">825.09</text>
<text x="216.8" y="1007.2">辆</text><text x="234.6" y="1007.2">≥</text><text x="267.2" y="1007.2">1167</text>
<text x="112.5" y="1029">其中</text><text x="216.8" y="1018.1">辆</text><text x="261.3" y="1015.2">1167(其中货车393，小汽车</text><text x="261.3" y="1020.8">185，货车折算系数2.5)</text>
<text x="216.8" y="1029.2">辆</text><text x="261.3" y="1029.2">0</text>
<text x="216.8" y="1038.2">辆</text><text x="234.6" y="1038.2">≥</text><text x="267.2" y="1038.2">389</text>
<text x="112.5" y="1051.6">其中</text><text x="216.8" y="1047.2">辆</text><text x="261.3" y="1047.2">390</text>
<text x="216.8" y="1056.2">辆</text><text x="261.3" y="1056.2">0</text>
<text x="216.8" y="1064.9">座</text><text x="261.3" y="1064.9">0</text>
<text x="216.8" y="1073.7">M²</text><text x="261.3" y="1073.7">1479.66</text>
<text x="216.8" y="1082.7">M²</text><text x="261.3" y="1082.7">3004.63</text>
<text x="216.8" y="1091.6">%</text><text x="261.3" y="1091.6">0.82%</text>
<text x="216.8" y="1100.5">%</text><text x="261.3" y="1100.5">1.67%</text>
</g>
<g font-size="4.3" fill="#fff">
<text x="79.5" y="851.1">项目</text>
<text x="79.5" y="862.2">总用地面积</text><text x="79.5" y="871.2">可建设用地面积</text><text x="79.5" y="880.2">地上计容建筑面积</text><text x="79.5" y="889.3">总建筑面积</text><text x="79.5" y="898.3">地上建筑面积</text><text x="79.5" y="907.1">地下建筑面积</text>
<text x="79.5" y="916">容积率</text><text x="79.5" y="925">建筑密度</text><text x="79.5" y="933.9">建筑基底面积</text><text x="79.5" y="942.9">绿地率</text><text x="79.5" y="951.8">绿地面积</text>
<text x="79.5" y="970.5">总建筑面积</text><text x="79.5" y="980.2">地上奖励非计容建筑面积</text>
<text x="79.5" y="993.9">地下建筑面积</text><text x="149.5" y="989.4">经营性建筑面积</text><text x="149.5" y="998.4">非经营性建筑面积</text>
<text x="79.5" y="1007.2">机动车停车位</text><text x="149.5" y="1018.1">地上机动车停车位</text><text x="149.5" y="1029.2">地下机动车停车位</text>
<text x="79.5" y="1038.2">非机动车停车位</text><text x="149.5" y="1047.2">地上非机动车停车位</text><text x="149.5" y="1056.2">地下非机动车停车位</text>
<text x="79.5" y="1064.9">城市雕塑</text><text x="79.5" y="1073.7">行政办公及生活服务设施用地面积</text><text x="79.5" y="1082.7">行政办公及生活服务设施建筑面积</text>
<text x="84" y="1091.6">行政办公及生活服务设施用地面积占总用地面积比例</text><text x="84" y="1100.5">行政办公及生活服务设施建筑面积占总建筑面积比例</text>
<text x="79.5" y="1109.5">注：层高大于8m的工业仓储类建筑，容积率按双倍计算。</text>
</g>

<rect x="317.8" y="829.5" width="195.1" height="79" fill="#000"/>
<g stroke="#bbb" stroke-width="0.35">
<line x1="317.8" y1="830.2" x2="512.9" y2="830.2"/><line x1="317.8" y1="838.2" x2="512.9" y2="838.2"/><line x1="317.8" y1="846.4" x2="512.9" y2="846.4"/><line x1="317.8" y1="855.1" x2="512.9" y2="855.1"/><line x1="317.8" y1="863.4" x2="512.9" y2="863.4"/><line x1="317.8" y1="872.6" x2="512.9" y2="872.6"/><line x1="317.8" y1="880.9" x2="512.9" y2="880.9"/><line x1="317.8" y1="889.9" x2="512.9" y2="889.9"/><line x1="317.8" y1="899.4" x2="512.9" y2="899.4"/><line x1="317.8" y1="908.5" x2="512.9" y2="908.5"/>
<line x1="317.8" y1="830.2" x2="317.8" y2="908.5"/><line x1="512.9" y1="830.2" x2="512.9" y2="908.5"/>
<line x1="336.5" y1="838.2" x2="336.5" y2="908.5"/><line x1="369.3" y1="838.2" x2="369.3" y2="908.5"/><line x1="403.2" y1="838.2" x2="403.2" y2="908.5"/><line x1="453.5" y1="838.2" x2="453.5" y2="908.5"/>
</g>
<g font-size="4.3" fill="#fff" text-anchor="middle">
<text x="415.3" y="835.7">配套用房一览表</text>
<text x="327.1" y="843.8">编号</text><text x="352.9" y="843.8">名称</text><text x="386.2" y="843.8">占地面积</text><text x="428.3" y="843.8">建筑面积</text><text x="483.2" y="843.8">备注</text>
<text x="327.1" y="852.3">1</text><text x="352.9" y="852.3">公厕</text><text x="386.2" y="852.3">61.75</text><text x="428.3" y="852.3">61.75</text><text x="483.2" y="852.3">设置于门卫二</text>
<text x="327.1" y="860.8">2</text><text x="352.9" y="860.8">开闭所</text><text x="386.2" y="860.8">200.88</text><text x="428.3" y="860.8">200.88</text><text x="483.2" y="860.8">设置于配套用房</text>
<text x="327.1" y="869.5">3</text><text x="352.9" y="869.5">垃圾收集点</text><text x="386.2" y="869.5">76.88</text><text x="428.3" y="869.5">76.88</text><text x="483.2" y="869.5">设置于配套用房</text>
<text x="327.1" y="878.3">4</text><text x="352.9" y="878.3">电信模块局</text><text x="386.2" y="878.3">33.88</text><text x="428.3" y="878.3">33.88</text><text x="483.2" y="878.3">设置于倒班楼一层</text>
<text x="327.1" y="886.9">5</text><text x="352.9" y="886.9" font-size="3.9">污水处理设施</text><text x="386.2" y="886.9">30.00</text><text x="428.3" y="886.9">30.00</text><text x="483.2" y="886.9">埋地式设置，选用成品</text>
<text x="327.1" y="896.2">6</text><text x="352.9" y="896.2">变电所</text><text x="386.2" y="896.2">149.68</text><text x="428.3" y="896.2">149.68</text><text x="483.2" y="896.2">设置于设备用房一</text>
<text x="327.1" y="905.4">7</text><text x="352.9" y="905.4">变电所</text><text x="386.2" y="905.4">161.50</text><text x="428.3" y="905.4">161.50</text><text x="483.2" y="905.4">设置于设备用房二</text>
</g>
</svg>
</body></html>
